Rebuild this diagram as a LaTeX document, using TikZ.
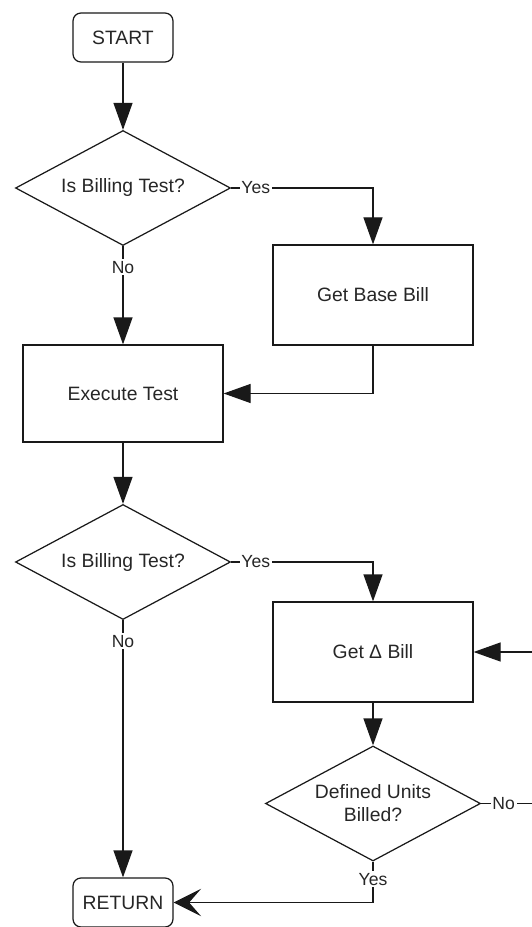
\documentclass[tikz,border=0pt]{standalone}
\usepackage{fontspec}
\setmainfont{Liberation Sans}
\usetikzlibrary{positioning, arrows.meta, shapes.geometric}
\tikzset{
    >={Triangle[length=5.4mm, width=3.8mm]}, % big filled arrow heads
    terminal/.style={draw, rounded corners=1.6mm, minimum width=2cm, minimum height=0.98cm, text=black!85, font=\fontsize{11}{13}\selectfont}, % START and RETURN
    process/.style={draw, minimum width=4cm, minimum height=2cm, text=black!85, font=\fontsize{11}{13}\selectfont}, % plain boxes
    decision/.style={draw, diamond, aspect=2, inner sep=0pt, minimum width=4.3cm, minimum height=2.3cm, align=center, text=black!85, font=\fontsize{11}{13}\selectfont}, % questions
    answer/.style={fill=white, inner sep=1pt, text=black!85, font=\fontsize{10}{12}\selectfont}, % Yes / No on the lines
}
\tikzstyle{arrow} = [line width=0.7pt, ->]

\begin{document}
\begin{tikzpicture}[line width=0.7pt, draw=black!90]
    \useasboundingbox (0,0) rectangle (10.62,-18.54);

    % Start and first question
    \node[terminal] (start) at (2.46,-0.75) {START};
    \node[decision] (check1) at (2.46,-3.76) {Is Billing Test?};
    \node[process] (base) at (7.46,-5.9) {Get Base Bill};
    \node[process, minimum height=1.94cm] (exec) at (2.46,-7.87) {Execute Test};

    % Second question and the delta bill loop
    \node[decision] (check2) at (2.46,-11.24) {Is Billing Test?};
    \node[process] (delta) at (7.46,-13.04) {Get Δ Bill};
    \node[decision] (units) at (7.46,-16.07) {Defined Units\\Billed?};
    \node[terminal] (return) at (2.46,-18.05) {RETURN};
    \coordinate (loop) at (11.2,-16.07);

    % Connectors
    \draw[arrow] (start) -- (check1);
    \draw[arrow] (check1.east) node[answer, anchor=west, xshift=0.16cm] {Yes} -| (base.north);
    \draw[arrow] (check1.south) node[answer, anchor=north, yshift=-0.25cm] {No} -- (exec.north);
    \draw[arrow] (base.south) |- (exec.east);
    \draw[arrow] (exec) -- (check2);
    \draw[arrow] (check2.east) node[answer, anchor=west, xshift=0.16cm] {Yes} -| (delta.north);
    \draw[arrow] (check2.south) node[answer, anchor=north, yshift=-0.25cm] {No} -- (return.north);
    \draw[arrow] (delta) -- (units);
    \draw[arrow] (units.east) node[answer, anchor=west, xshift=0.18cm] {No} -- (loop) |- (delta.east);
    \draw[line width=0.7pt, -{Stealth[length=5.5mm, width=5.5mm, inset=2.4mm]}] (units.south) node[answer, anchor=north, yshift=-0.18cm] {Yes} |- (return.east);
\end{tikzpicture}
\end{document}
